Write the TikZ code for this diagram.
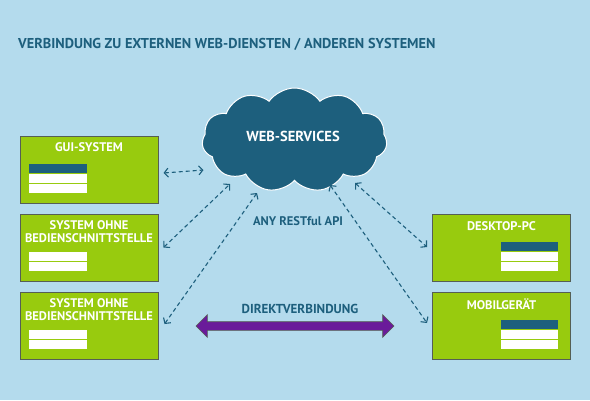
\documentclass[tikz,border=0pt]{standalone}
\usepackage{fontspec}
\setmainfont{PT Sans}
\usetikzlibrary{positioning,calc,shapes.symbols,shapes.arrows,arrows.meta}
\definecolor{bgblue}{RGB}{180,219,237}
\definecolor{webteal}{RGB}{29,95,125}
\definecolor{boxgreen}{RGB}{152,203,14}
\definecolor{boxedge}{RGB}{85,95,85}
\definecolor{direktpurple}{RGB}{106,27,154}
\tikzset{
  sysbox/.style={draw=boxedge,fill=boxgreen,line width=1pt,minimum width=138pt,minimum height=67pt,inner sep=0pt},
  systxt/.style={text=white,font=\bfseries\fontsize{12.5}{13}\selectfont,align=center,inner sep=0pt},
  bluetxt/.style={text=webteal,font=\bfseries\fontsize{13}{15}\selectfont,inner sep=0pt},
  apiarrow/.style={webteal,line width=1.1pt,dash pattern=on 4pt off 3pt,
    {Straight Barb[length=4pt,width=9pt]}-{Straight Barb[length=4pt,width=9pt]}},
}
\begin{document}
\begin{tikzpicture}[x=1pt,y=-1pt]
		%
		\fill[bgblue] (0,0) rectangle (590,400);
		%
		\node[anchor=west,bluetxt,font=\bfseries\fontsize{14.3}{16}\selectfont] (titel) at (18,44) {VERBINDUNG ZU EXTERNEN WEB-DIENSTEN / ANDEREN SYSTEMEN};
		%
		\node[cloud,cloud puffs=11,cloud puff arc=110,aspect=1.8,minimum width=185pt,minimum height=104pt,
			fill=webteal,draw=white,line width=1pt] (ws) at (294.5,140) {};
		\node[systxt,font=\bfseries\fontsize{14.5}{16}\selectfont] (wstxt) at (293,136) {WEB-SERVICES};
		%
		\node[sysbox] (gui) at (89,169.5) {};
		\node[sysbox] (ohne1) at (89,247.5) {};
		\node[sysbox] (ohne2) at (89,325.5) {};
		\node[sysbox] (desktop) at (501.5,248) {};
		\node[sysbox] (mobil) at (501.5,325.5) {};
		%
		\node[systxt,below=7pt of gui.north] (guitxt) {GUI-SYSTEM};
		\node[systxt,below=7pt of ohne1.north] (ohne1txt) {SYSTEM OHNE\\BEDIENSCHNITTSTELLE};
		\node[systxt,below=7pt of ohne2.north] (ohne2txt) {SYSTEM OHNE\\BEDIENSCHNITTSTELLE};
		\node[systxt,below=7pt of desktop.north] (desktoptxt) {DESKTOP-PC};
		\node[systxt,below=7pt of mobil.north] (mobiltxt) {MOBILGERÄT};
		%
		\fill[webteal] ($(gui.north west)+(9,28)$) rectangle ++(58,9);
		\fill[white] ($(gui.north west)+(9,38)$) rectangle ++(58,9);
		\fill[white] ($(gui.north west)+(9,48)$) rectangle ++(58,9);
		\fill[white] ($(ohne1.north west)+(9,38)$) rectangle ++(58,9);
		\fill[white] ($(ohne1.north west)+(9,48)$) rectangle ++(58,9);
		\fill[white] ($(ohne2.north west)+(9,38)$) rectangle ++(58,9);
		\fill[white] ($(ohne2.north west)+(9,48)$) rectangle ++(58,9);
		\fill[webteal] ($(desktop.north west)+(69,28)$) rectangle ++(57,9);
		\fill[white] ($(desktop.north west)+(69,38)$) rectangle ++(57,9);
		\fill[white] ($(desktop.north west)+(69,48)$) rectangle ++(57,9);
		\fill[webteal] ($(mobil.north west)+(69,28)$) rectangle ++(57,9);
		\fill[white] ($(mobil.north west)+(69,38)$) rectangle ++(57,9);
		\fill[white] ($(mobil.north west)+(69,48)$) rectangle ++(57,9);
		%
		\node[bluetxt,font=\bfseries\fontsize{12.5}{15}\selectfont] (api) at (298,221) {ANY RESTful API};
		\node[bluetxt] (direkttxt) at (300,309) {DIREKTVERBINDUNG};
		\node[double arrow,double arrow head extend=7pt,inner sep=4pt,minimum height=198pt,
			fill=direktpurple,draw=boxedge,line width=0.6pt] (direkt) at (295,326) {};
		%
		\draw[apiarrow] ($(gui.east)+(5,3.5)$) -- ($(ws.center)+(-91,30)$);
		\draw[apiarrow] ($(ohne1.east)+(5,0)$) -- ($(ws.center)+(-64.5,44)$);
		\draw[apiarrow] ($(ohne2.east)+(6,-1.5)$) -- ($(ws.center)+(-37.5,53)$);
		\draw[apiarrow] ($(ws.center)+(35.5,45)$) -- ($(mobil.west)+(-5,-2.5)$);
		\draw[apiarrow] ($(ws.center)+(60.5,43)$) -- ($(desktop.west)+(-5,-1)$);
		\end{tikzpicture}
\end{document}
